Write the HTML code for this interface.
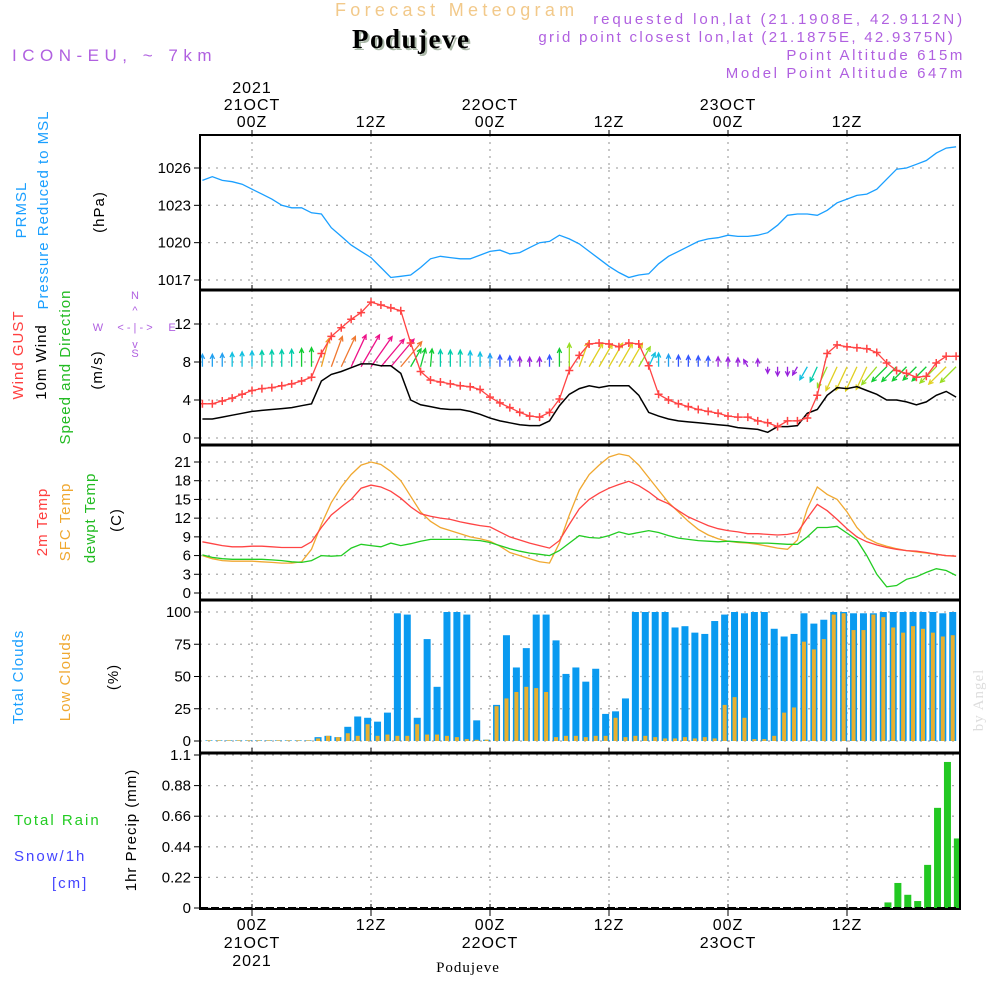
<!DOCTYPE html>
<html><head><meta charset="utf-8"><style>
body{margin:0;background:#fff}
svg{display:block;font-family:"Liberation Sans",sans-serif}
</style></head><body>
<svg id="chart" width="1000" height="1000" viewBox="0 0 1000 1000">
<g id="grid"></g>
<g id="marks"></g>
<g id="frames"></g>
<g id="axes" font-size="15" fill="#000"></g>
<g>
<text x="335" y="16" font-size="18" fill="#f2c98a" letter-spacing="4.3">Forecast Meteogram</text>
<text x="354" y="50" font-size="27" font-weight="bold" font-family="Liberation Serif,serif" fill="#aab8a8" letter-spacing="1.5">Podujeve</text>
<text x="352" y="48" font-size="27" font-weight="bold" font-family="Liberation Serif,serif" fill="#000" letter-spacing="1.5">Podujeve</text>
<text x="965" y="24" font-size="15" fill="#b060e0" text-anchor="end" letter-spacing="2.9">requested lon,lat (21.1908E, 42.9112N)</text>
<text x="955" y="42" font-size="15" fill="#b060e0" text-anchor="end" letter-spacing="2.3">grid point closest lon,lat (21.1875E, 42.9375N)</text>
<text x="965" y="60" font-size="15" fill="#b060e0" text-anchor="end" letter-spacing="2.6">Point Altitude 615m</text>
<text x="965" y="78" font-size="15" fill="#b060e0" text-anchor="end" letter-spacing="2.6">Model Point Altitude 647m</text>
<text x="12" y="61" font-size="17" fill="#b060e0" letter-spacing="5.5">ICON-EU, ~ 7km</text>
</g>
<g font-size="15" letter-spacing="1">
<text transform="translate(26,210) rotate(-90)" text-anchor="middle" fill="#1a9fff">PRMSL</text>
<text transform="translate(48,210) rotate(-90)" text-anchor="middle" fill="#1a9fff">Pressure Reduced to MSL</text>
<text transform="translate(104,212) rotate(-90)" text-anchor="middle" fill="#000">(hPa)</text>
<text transform="translate(23,355) rotate(-90)" text-anchor="middle" fill="#ff4040">Wind GUST</text>
<text transform="translate(46,362) rotate(-90)" text-anchor="middle" fill="#000">10m Wind</text>
<text transform="translate(70,367) rotate(-90)" text-anchor="middle" fill="#22bb22">Speed and Direction</text>
<text transform="translate(102,370) rotate(-90)" text-anchor="middle" fill="#000">(m/s)</text>
<g fill="#b060e0" font-size="11" letter-spacing="0">
<text x="135" y="299" text-anchor="middle">N</text><text x="135" y="357" text-anchor="middle">S</text>
<text x="98" y="331" text-anchor="middle">W</text><text x="172" y="331" text-anchor="middle">E</text>
<text x="135" y="331" text-anchor="middle">&lt; - | - &gt;</text>
<text x="135" y="314" text-anchor="middle">^</text><text x="135" y="348" text-anchor="middle">v</text>
</g>
<text transform="translate(47,522) rotate(-90)" text-anchor="middle" fill="#ff4040">2m Temp</text>
<text transform="translate(70,522) rotate(-90)" text-anchor="middle" fill="#f0a830">SFC Temp</text>
<text transform="translate(95,518) rotate(-90)" text-anchor="middle" fill="#22bb22">dewpt Temp</text>
<text transform="translate(121,520) rotate(-90)" text-anchor="middle" fill="#000">(C)</text>
<text transform="translate(23,677) rotate(-90)" text-anchor="middle" fill="#1a9fff">Total Clouds</text>
<text transform="translate(70,677) rotate(-90)" text-anchor="middle" fill="#f0a830">Low Clouds</text>
<text transform="translate(118,677) rotate(-90)" text-anchor="middle" fill="#000">(%)</text>
<text x="14" y="825" fill="#22cc22" letter-spacing="2">Total   Rain</text>
<text x="14" y="861" fill="#4444ff" letter-spacing="2">Snow/1h</text>
<text x="52" y="888" fill="#4444ff" letter-spacing="2">[cm]</text>
<text transform="translate(136,830) rotate(-90)" text-anchor="middle" fill="#000">1hr Precip (mm)</text>
<text x="468" y="972" text-anchor="middle" font-family="Liberation Serif,serif" font-size="15" letter-spacing="1">Podujeve</text>
<text transform="translate(983,700) rotate(-90)" text-anchor="middle" fill="#dddddd" font-family="Liberation Serif,serif" font-size="15">by Angel</text>
</g>
</svg>
<script>
// hours -5..71
const pressure=[1025.0,1025.3,1025.0,1024.9,1024.7,1024.3,1023.9,1023.5,1023.0,1022.8,1022.8,1022.4,
1022.3,1021.2,1020.5,1019.8,1019.3,1018.8,1018.0,1017.2,1017.3,1017.4,
1018.0,1018.7,1018.9,1018.8,1018.7,1018.7,1019.0,1019.3,1019.4,1019.1,
1019.2,1019.6,1020.0,1020.1,1020.6,1020.3,1019.9,1019.3,1018.7,1018.1,
1017.6,1017.2,1017.4,1017.5,1018.3,1018.9,1019.3,1019.7,1020.1,1020.3,
1020.4,1020.6,1020.5,1020.5,1020.6,1020.8,1021.4,1022.2,1022.3,1022.3,
1022.2,1022.6,1023.2,1023.5,1023.8,1023.9,1024.3,1025.1,1025.9,1026.0,
1026.3,1026.6,1027.2,1027.6,1027.7];
const windGust=[3.6,3.6,3.9,4.2,4.6,5.0,5.2,5.3,5.5,5.7,6.0,6.4,
8.9,10.7,11.6,12.5,13.2,14.3,14.0,13.7,13.4,10.0,
7.0,6.1,5.9,5.7,5.5,5.4,5.1,4.3,3.7,3.2,
2.7,2.3,2.2,2.7,4.1,7.1,8.7,9.9,10.0,9.9,
9.6,10.0,9.9,7.6,4.6,4.0,3.6,3.3,3.0,2.8,
2.6,2.3,2.2,2.2,1.8,1.6,1.2,1.8,1.8,2.1,
4.5,8.9,9.8,9.6,9.5,9.4,9.0,7.9,7.1,6.8,
6.4,6.5,7.9,8.6,8.6];
const wind10m=[2.0,2.0,2.2,2.4,2.6,2.8,2.9,3.0,3.1,3.2,3.4,3.6,
6.0,6.7,7.0,7.4,7.8,7.8,7.6,7.6,6.8,4.0,
3.5,3.3,3.1,3.0,3.0,2.8,2.5,2.1,1.8,1.6,
1.4,1.3,1.3,1.8,3.4,4.6,5.2,5.5,5.3,5.5,
5.5,5.5,4.5,2.7,2.3,2.0,1.8,1.7,1.6,1.5,
1.4,1.3,1.1,1.0,0.9,0.6,1.2,1.2,1.3,2.6,
3.0,4.5,5.3,5.2,5.4,5.0,4.6,4.0,4.0,3.8,
3.5,3.8,4.5,4.9,4.3];
const windDir=[0,0,0,0,0,0,0,0,0,0,0,0,
15,20,25,25,30,35,40,40,40,30,
15,5,0,0,0,0,0,0,0,0,
0,0,0,0,0,0,20,30,30,30,
30,30,30,25,0,0,0,0,0,0,
0,0,0,330,0,180,180,180,210,210,
205,205,205,205,205,205,220,225,225,225,
225,225,225,225,225];
const temp2m=[8.2,7.9,7.6,7.4,7.4,7.5,7.5,7.4,7.3,7.3,
7.3,8.2,10.5,12.5,13.8,15.0,16.8,17.3,17.0,16.3,
15.2,13.8,12.7,12.3,12.0,11.8,11.4,11.1,10.8,10.6,
9.8,9.0,8.5,8.0,7.6,7.2,8.4,11.0,13.5,15.0,
16.0,16.8,17.4,17.9,17.2,16.2,15.0,14.3,13.2,12.2,
11.5,10.8,10.3,10.0,9.8,9.5,9.5,9.4,9.3,9.4,
9.7,12.0,14.2,13.2,11.8,10.3,9.0,8.2,7.7,7.3,
7.0,6.8,6.7,6.5,6.2,6.0,5.9];
const sfcTemp=[6.0,5.5,5.2,5.1,5.1,5.1,5.0,4.9,4.8,4.8,
5.0,7.0,11.0,14.5,17.0,19.0,20.5,21.0,20.6,19.5,
18.0,15.5,13.0,11.5,10.5,10.0,9.5,9.0,8.7,8.3,
7.5,6.5,6.0,5.5,5.0,4.8,8.0,12.5,16.5,19.0,
20.5,21.8,22.3,22.0,20.5,18.5,16.5,14.5,13.0,11.5,
10.2,9.3,8.7,8.3,8.1,8.0,7.8,7.5,7.2,7.0,
8.5,13.5,17.0,15.8,15.0,13.0,10.5,8.8,8.0,7.5,
7.1,6.8,6.6,6.4,6.2,6.0,5.9];
const dewTemp=[6.1,5.7,5.5,5.4,5.4,5.4,5.4,5.3,5.2,5.0,
4.9,5.2,6.0,5.9,6.0,7.2,7.8,7.6,7.4,8.0,
7.6,7.9,8.3,8.6,8.6,8.6,8.6,8.5,8.4,8.1,
7.6,7.1,6.7,6.4,6.2,6.0,6.8,8.0,9.2,8.9,
8.8,9.2,9.8,9.4,9.7,10.0,9.7,9.2,8.8,8.6,
8.4,8.3,8.2,8.3,8.2,8.1,8.0,8.0,7.9,7.8,
7.8,9.0,10.5,10.5,10.7,9.6,8.5,6.0,3.0,1.0,
1.2,2.2,2.6,3.3,3.9,3.6,2.8];
// cloud bars, first bar at hour -4.34, hourly
const totalClouds=[0.5,0.5,0.5,0.5,0.5,0.5,0.5,0.5,0.5,0.5,0.5,
3,4,3,11,19,18,15,22,99,98,
18,79,42,100,100,98,16,1,28,82,
57,72,98,98,78,52,57,46,56,21,
23,33,100,100,100,100,88,89,84,83,
93,98,100,99,100,100,87,81,83,99,
91,94,100,100,99,99,99,100,100,100,
100,100,100,99,100];
const lowClouds=[0.5,0.5,0.5,0.5,0.5,0.5,0.5,0.5,0.5,0.5,0.5,
2,4,3,6,4,13,4,5,4,4,
13,5,5,4,3,1.5,1,1,27,33,
38,42,41,38,3,4,4,3,4,4,
18,3,4,4,3,2,2,3,2,3,
2,28,34,18,1.5,1.5,4,22,26,77,
71,79,98,99,86,86,98,96,88,84,
89,87,84,81,82];
const precipHours=[64,65,66,67,68,69,70,71];
const precipVals=[0.04,0.18,0.095,0.05,0.31,0.72,1.05,0.50];
const pTicks=[1017,1020,1023,1026];
const wTicks=[0,4,8,12];
const tTicks=[0,3,6,9,12,15,18,21];
const cTicks=[0,25,50,75,100];
const rTicks=["0","0.22","0.44","0.66","0.88","1.1"];

const NS="http://www.w3.org/2000/svg";
const L=200,R=960;
const xOf=h=>252+h*119/12;
const yP=v=>168+(1026-v)*37.33/3;
const yW=v=>438-v*9.5;
const yT=v=>593-v*131/21;
const yC=v=>741-v*1.29;
const yR=v=>908-v*153/1.1;
function el(tag,attrs,parent){const e=document.createElementNS(NS,tag);for(const k in attrs)e.setAttribute(k,attrs[k]);parent.appendChild(e);return e;}
const grid=document.getElementById('grid'),marks=document.getElementById('marks'),frames=document.getElementById('frames'),axes=document.getElementById('axes');
const panels=[[135,290],[290,445],[445,600],[600,753],[753,909]];
const defs=el('defs',{},document.getElementById('chart'));
const cp=el('clipPath',{id:'plotclip'},defs);el('rect',{x:L,y:130,width:R-L,height:780},cp);
marks.setAttribute('clip-path','url(#plotclip)');
[0,12,24,36,48,60].forEach(h=>{panels.forEach(p=>{
 const g=el('line',{x1:xOf(h),x2:xOf(h),y1:p[0],y2:p[1],stroke:'#aaa','stroke-dasharray':'2 5','stroke-width':1.3},grid);
 
 
 el('line',{x1:xOf(h),x2:xOf(h),y1:p[1]-5,y2:p[1],stroke:'#000'},grid);
});});
function hgrid(ticks,yf,labels,name){ticks.forEach((t,i)=>{const y=yf(+t);
 const g=el('line',{x1:L,x2:R,y1:y,y2:y,stroke:'#aaa','stroke-dasharray':'2 6','stroke-width':1.3},grid);
 
 
 el('line',{x1:L-6,x2:L,y1:y,y2:y,stroke:'#000'},axes);
 const tx=el('text',{x:L-9,y:y+5,'text-anchor':'end'},axes);tx.textContent=labels?labels[i]:t;
 
 
});}
hgrid(pTicks,yP,null,'pressure');hgrid(wTicks,yW,null,'wind');hgrid(tTicks,yT,null,'temp');hgrid(cTicks,yC,null,'cloud');hgrid(rTicks,yR,null,'precip');
const hours=pressure.map((_,i)=>i-5);
function line(arr,yf,color,name,w){const d=arr.map((v,i)=>(i?'L':'M')+xOf(hours[i]).toFixed(1)+','+yf(v).toFixed(1)).join('');
 const p=el('path',{d:d,fill:'none',stroke:color,'stroke-width':w||1.3},marks);
 
 }
line(pressure,yP,'#1a9fff','pressure-line');
function spdColor(s){if(s<1.45)return'#9922dd';if(s<1.9)return'#3355ff';if(s<2.3)return'#22a0f0';if(s<2.9)return'#11c0e0';if(s<3.3)return'#00ccaa';if(s<4.2)return'#11cc33';if(s<4.8)return'#99dd22';if(s<5.6)return'#e0d020';if(s<6.5)return'#f0a020';if(s<7.3)return'#f07830';return'#ee1188';}
windDir.forEach((d,i)=>{const s=wind10m[i];const x0=xOf(hours[i]),y0=yW(7.5);const len=4+4.2*s;const a=d*Math.PI/180;
 const x1=x0+len*Math.sin(a),y1=y0-len*Math.cos(a);const c=spdColor(s);
 const g=el('g',{stroke:c,'stroke-width':1.3,fill:'none'},marks);
 
 
 const hl=5,ha=0.45;
 el('path',{d:`M${x0},${y0}L${x1},${y1}M${x1-hl*Math.sin(a-ha)},${y1+hl*Math.cos(a-ha)}L${x1},${y1}L${x1-hl*Math.sin(a+ha)},${y1+hl*Math.cos(a+ha)}`},g);
});
line(wind10m,yW,'#000','wind10m-line',1.5);
line(windGust,yW,'#ff4444','wind-gust-line');
windGust.forEach((v,i)=>{const x=xOf(hours[i]),y=yW(v);
 const m=el('path',{d:`M${x-4},${y}L${x+4},${y}M${x},${y-4}L${x},${y+4}`,stroke:'#ff4444','stroke-width':1.5},marks);
 
 });
line(sfcTemp,yT,'#f0a830','sfc-temp-line');
line(temp2m,yT,'#ff4444','temp2m-line');
line(dewTemp,yT,'#22cc22','dewpt-line');
totalClouds.forEach((v,i)=>{const x=xOf(i-4.34);
 const b=el('rect',{x:x-3.5,y:yC(v),width:7,height:yC(0)-yC(v),fill:'#0a9af0'},marks);
 
 
 const lv=lowClouds[i];
 const c=el('rect',{x:x-2,y:yC(lv),width:4,height:yC(0)-yC(lv),fill:'#e8b030'},marks);
 
 });
precipVals.forEach((v,i)=>{const x=xOf(precipHours[i]+0.13);
 const b=el('rect',{x:x-3.5,y:yR(v),width:7,height:yR(0)-yR(v),fill:'#22c822'},marks);
 
 });
el('line',{x1:L,x2:R,y1:908,y2:908,stroke:'#000','stroke-width':2,'stroke-dasharray':'8 3'},marks);
panels.forEach(p=>{const r=el('rect',{x:L,y:p[0],width:R-L,height:p[1]-p[0],fill:'none',stroke:'#000','stroke-width':2},frames);
 
 });
[290,445,600,753].forEach(y=>el('line',{x1:L,x2:R,y1:y,y2:y,stroke:'#000','stroke-width':3},frames));
const topLabels=[[0,['2021','21OCT','00Z']],[12,['12Z']],[24,['22OCT','00Z']],[36,['12Z']],[48,['23OCT','00Z']],[60,['12Z']]];
topLabels.forEach(([h,ls])=>{ls.forEach((s,j)=>{const t=el('text',{x:xOf(h),y:127-(ls.length-1-j)*17,'text-anchor':'middle','font-size':16,'letter-spacing':1},axes);t.textContent=s;
 
 });
 el('line',{x1:xOf(h),x2:xOf(h),y1:130,y2:135,stroke:'#000'},axes);});
const botLabels=[[0,['00Z','21OCT','2021']],[12,['12Z']],[24,['00Z','22OCT']],[36,['12Z']],[48,['00Z','23OCT']],[60,['12Z']]];
botLabels.forEach(([h,ls])=>{ls.forEach((s,j)=>{const t=el('text',{x:xOf(h),y:930+j*18,'text-anchor':'middle','font-size':16,'letter-spacing':1},axes);t.textContent=s;
 
 });
 el('line',{x1:xOf(h),x2:xOf(h),y1:909,y2:916,stroke:'#000'},axes);});
</script>
</body></html>
